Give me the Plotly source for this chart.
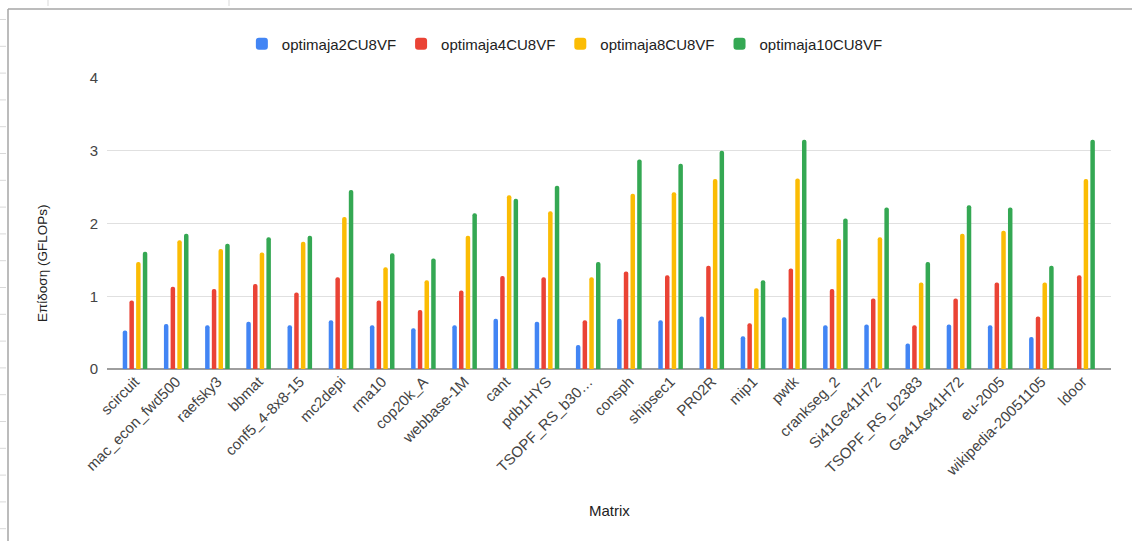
import plotly.graph_objects as go

# Sparse matrices benchmarked
matrices = [
    "scircuit", "mac_econ_fwd500", "raefsky3", "bbmat", "conf5_4-8x8-15",
    "mc2depi", "rma10", "cop20k_A", "webbase-1M", "cant", "pdb1HYS",
    "TSOPF_RS_b30…", "consph", "shipsec1", "PR02R", "mip1", "pwtk",
    "crankseg_2", "Si41Ge41H72", "TSOPF_RS_b2383", "Ga41As41H72",
    "eu-2005", "wikipedia-20051105", "ldoor",
]

# Performance (GFLOPs) per configuration
optimaja2CU8VF = [0.53, 0.62, 0.60, 0.65, 0.60, 0.67, 0.60, 0.56, 0.60, 0.69,
                  0.65, 0.33, 0.69, 0.67, 0.72, 0.45, 0.71, 0.60, 0.61, 0.35,
                  0.61, 0.60, 0.44, None]
optimaja4CU8VF = [0.94, 1.13, 1.10, 1.17, 1.05, 1.26, 0.94, 0.81, 1.08, 1.28,
                  1.26, 0.67, 1.34, 1.29, 1.42, 0.63, 1.38, 1.10, 0.97, 0.60,
                  0.97, 1.19, 0.72, 1.29]
optimaja8CU8VF = [1.47, 1.77, 1.65, 1.60, 1.75, 2.09, 1.40, 1.22, 1.83, 2.39,
                  2.17, 1.26, 2.41, 2.43, 2.61, 1.11, 2.62, 1.79, 1.81, 1.19,
                  1.86, 1.90, 1.19, 2.61]
optimaja10CU8VF = [1.61, 1.86, 1.72, 1.81, 1.83, 2.46, 1.59, 1.52, 2.14, 2.34,
                   2.52, 1.47, 2.88, 2.82, 3.00, 1.22, 3.15, 2.07, 2.22, 1.47,
                   2.25, 2.22, 1.42, 3.15]

series = [
    ("optimaja2CU8VF", optimaja2CU8VF, "#4285F4"),
    ("optimaja4CU8VF", optimaja4CU8VF, "#EA4335"),
    ("optimaja8CU8VF", optimaja8CU8VF, "#FBBC04"),
    ("optimaja10CU8VF", optimaja10CU8VF, "#34A853"),
]

y_ticks = [0, 1, 2, 3, 4]

FONT = "Liberation Sans, Arial, sans-serif"
FS = 15
W, H = 1132, 541
L, R, T, B = 107, 21, 78, 172

fig = go.Figure()
for name, vals, color in series:
    fig.add_trace(go.Bar(
        name=name, x=matrices, y=vals,
        marker=dict(color=color, line=dict(width=0)),
    ))

pw = W - L - R
ph = H - T - B


def px_x(x):
    return (x - L) / pw


def px_y(y):
    return (H - B - y) / ph


shapes = []
frame_col = "#a6a6a6"
# frame: top edge and left edge
shapes.append(dict(type="line", xref="paper", yref="paper",
                   x0=px_x(8), x1=px_x(W), y0=px_y(9), y1=px_y(9),
                   line=dict(color=frame_col, width=1.5)))
shapes.append(dict(type="line", xref="paper", yref="paper",
                   x0=px_x(8), x1=px_x(8), y0=px_y(9), y1=px_y(H),
                   line=dict(color=frame_col, width=1.5)))
# row markers on the left edge
for k in range(20):
    yy = 19.5 + 26.8 * k
    if yy > H:
        break
    shapes.append(dict(type="line", xref="paper", yref="paper",
                       x0=px_x(0), x1=px_x(6), y0=px_y(yy), y1=px_y(yy),
                       line=dict(color="#d9d9d9", width=1)))
# column markers on the top edge
for xx in [48, 229]:
    shapes.append(dict(type="line", xref="paper", yref="paper",
                       x0=px_x(xx), x1=px_x(xx), y0=px_y(0), y1=px_y(6),
                       line=dict(color="#d9d9d9", width=1)))

annotations = [
    dict(text="Matrix", xref="paper", yref="paper", x=px_x(609), y=px_y(510),
         showarrow=False, font=dict(family=FONT, size=FS, color="#222222"),
         xanchor="center", yanchor="middle"),
    dict(text="Επίδοση (GFLOPs)", xref="paper", yref="paper",
         x=px_x(42), y=px_y(264), textangle=-90, showarrow=False,
         font=dict(family=FONT, size=13.5, color="#222222"),
         xanchor="center", yanchor="middle"),
]

fig.update_layout(
    width=W, height=H,
    margin=dict(l=L, r=R, t=T, b=B, autoexpand=False),
    paper_bgcolor="white", plot_bgcolor="white",
    font=dict(family=FONT, size=FS, color="#444444"),
    barmode="group", bargap=0.35, bargroupgap=0.33, barcornerradius=2,
    showlegend=True,
    legend=dict(
        orientation="h", xref="container", yref="container",
        x=0.499, xanchor="center", y=1 - 44 / H, yanchor="middle",
        font=dict(family=FONT, size=FS, color="#222222"),
        itemsizing="constant", traceorder="normal",
    ),
    xaxis=dict(
        type="category", range=[-0.68, 23.69], tickangle=-45,
        showgrid=False, zeroline=False, showline=False, ticks="",
        tickfont=dict(family=FONT, size=FS, color="#444444"),
        fixedrange=True,
    ),
    yaxis=dict(
        range=[0, 4], tickvals=y_ticks, ticktext=[str(v) for v in y_ticks],
        showgrid=True, gridcolor="#e0e0e0", gridwidth=1,
        zeroline=True, zerolinecolor="#9e9e9e", zerolinewidth=1.5,
        showline=False, ticks="", ticklabelstandoff=8,
        tickfont=dict(family=FONT, size=FS, color="#444444"),
        fixedrange=True,
    ),
    shapes=shapes,
    annotations=annotations,
)

fig.write_html("out.html")
